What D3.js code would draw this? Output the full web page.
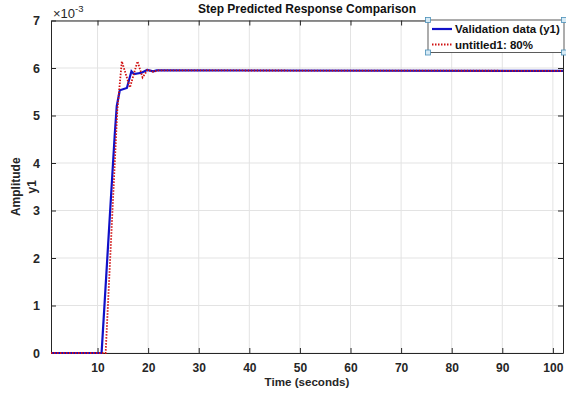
<!DOCTYPE html>
<html>
<head>
<meta charset="utf-8">
<script src="https://cdn.jsdelivr.net/npm/d3@7"></script>
<style>
  body { margin: 0; background: #fff; }
  text { font-family: "Liberation Sans", Arial, sans-serif; font-weight: bold; }
</style>
</head>
<body>
<div id="chart"></div>
<script>
// DATA (amplitude in units of 1e-3)
const validationTime = [0.8, 10.8, 13.4, 13.8, 14.4, 15.8, 16.7, 17.2, 18.7, 19.8, 21.0, 21.7, 102];
const validationAmp  = [0, 0, 4.6, 5.2, 5.53, 5.58, 5.93, 5.87, 5.9, 5.96, 5.93, 5.95, 5.94];

const modelTime = [0.8, 11.6, 13.9, 14.8, 16.4, 17.9, 18.9, 19.9, 21.0, 22.0, 102];
const modelAmp  = [0, 0, 5.1, 6.14, 5.59, 6.14, 5.8, 5.96, 5.92, 5.95, 5.94];

const xTicks = [10, 20, 30, 40, 50, 60, 70, 80, 90, 100];
const yTicks = [0, 1, 2, 3, 4, 5, 6, 7];
const legendLabels = ["Validation data (y1)", "untitled1: 80%"];

const width = 566, height = 394,
  margin = { top: 20.5, bottom: 41, left: 51, right: 3 };

const svg = d3.select("#chart").append("svg")
  .attr("width", width).attr("height", height);

svg.append("rect").attr("width", width).attr("height", height).attr("fill", "#fff");

// SCALES
const xScale = d3.scaleLinear().domain([0.8, 102]).range([margin.left, width - margin.right]);
const yScale = d3.scaleLinear().domain([0, 7]).range([height - margin.bottom, margin.top]);

const x0 = xScale.range()[0], x1 = xScale.range()[1];
const y0 = yScale.range()[0], y1 = yScale.range()[1];

// GRID
svg.append("g").selectAll("line").data(xTicks).join("line")
  .attr("x1", d => xScale(d)).attr("x2", d => xScale(d))
  .attr("y1", y0).attr("y2", y1)
  .attr("stroke", "#e3e3e3").attr("stroke-width", 1);
svg.append("g").selectAll("line").data(yTicks).join("line")
  .attr("x1", x0).attr("x2", x1)
  .attr("y1", d => yScale(d)).attr("y2", d => yScale(d))
  .attr("stroke", "#e3e3e3").attr("stroke-width", 1);

// AXES (ticks inside, box on)
const xAxis = d3.axisBottom(xScale).tickValues(xTicks).tickSizeInner(-5).tickSizeOuter(0).tickPadding(10);
const yAxis = d3.axisLeft(yScale).tickValues(yTicks).tickFormat(d3.format("d"))
  .tickSizeInner(-5).tickSizeOuter(0).tickPadding(11);

const gx = svg.append("g").attr("transform", `translate(0,${y0})`).call(xAxis);
const gy = svg.append("g").attr("transform", `translate(${x0},0)`).call(yAxis);
svg.append("g").attr("transform", `translate(0,${y1})`)
  .call(d3.axisTop(xScale).tickValues(xTicks).tickSizeInner(-5).tickSizeOuter(0).tickFormat(""));
svg.append("g").attr("transform", `translate(${x1},0)`)
  .call(d3.axisRight(yScale).tickValues(yTicks).tickSizeInner(-5).tickSizeOuter(0).tickFormat(""));

svg.selectAll(".domain").attr("stroke", "#262626");
svg.selectAll(".tick line").attr("stroke", "#262626");
gx.selectAll("text").attr("font-size", 12).attr("fill", "#262626");
gy.selectAll("text").attr("font-size", 12.5).attr("fill", "#262626");

// LINES
const line = d3.line().x(d => xScale(d[0])).y(d => yScale(d[1]));

svg.append("path")
  .datum(d3.zip(validationTime, validationAmp))
  .attr("d", line)
  .attr("fill", "none").attr("stroke", "#1010c8").attr("stroke-width", 2.2);

svg.append("path")
  .datum(d3.zip(modelTime, modelAmp))
  .attr("d", line)
  .attr("fill", "none").attr("stroke", "#d01010").attr("stroke-width", 1.8)
  .attr("stroke-dasharray", "1.5,1.5");

// TEXT
svg.append("text").attr("x", (x0 + x1) / 2).attr("y", 13)
  .attr("text-anchor", "middle").attr("font-size", 12).attr("fill", "#111")
  .text("Step Predicted Response Comparison");

const exp = svg.append("text").attr("x", 53).attr("y", 18).attr("font-size", 13)
  .attr("fill", "#262626");
exp.append("tspan").attr("font-weight", "normal").text("\u00d710");
exp.append("tspan").attr("dy", -6).attr("font-size", 9.5).attr("font-weight", "normal").text("-3");

svg.append("text").attr("x", (x0 + x1) / 2).attr("y", 386)
  .attr("text-anchor", "middle").attr("font-size", 11.6).attr("fill", "#262626")
  .text("Time (seconds)");

const yl = svg.append("text")
  .attr("transform", `translate(20,${(y0 + y1) / 2}) rotate(-90)`)
  .attr("text-anchor", "middle").attr("font-size", 12).attr("fill", "#262626");
yl.append("tspan").attr("x", 0).attr("dy", 0).text("Amplitude");
yl.append("tspan").attr("x", 0).attr("dy", 16).text("y1");

// LEGEND
const lg = { x: 428, y: 20, w: 136, h: 32.5 };
svg.append("rect").attr("x", lg.x).attr("y", lg.y).attr("width", lg.w).attr("height", lg.h)
  .attr("fill", "#fff").attr("stroke", "#333").attr("stroke-width", 0.8);

const legendStyles = [
  { stroke: "#1010c8", width: 2.2, dash: null },
  { stroke: "#d01010", width: 1.8, dash: "1.5,1.5" }
];
legendLabels.forEach((label, i) => {
  const cy = lg.y + 9 + i * 15.5;
  svg.append("line").attr("x1", lg.x + 4).attr("x2", lg.x + 24)
    .attr("y1", cy).attr("y2", cy)
    .attr("stroke", legendStyles[i].stroke).attr("stroke-width", legendStyles[i].width)
    .attr("stroke-dasharray", legendStyles[i].dash);
  svg.append("text").attr("x", lg.x + 27).attr("y", cy + 4)
    .attr("font-size", 11.5).attr("fill", "#111").text(label);
});

// selection handles
const corners = [[lg.x, lg.y], [lg.x + lg.w, lg.y], [lg.x, lg.y + lg.h], [lg.x + lg.w, lg.y + lg.h]];
svg.append("g").selectAll("rect").data(corners).join("rect")
  .attr("x", d => d[0] - 2.5).attr("y", d => d[1] - 2.5)
  .attr("width", 5).attr("height", 5)
  .attr("fill", "#d6eaf5").attr("stroke", "#4a90b8").attr("stroke-width", 0.8);
</script>
</body>
</html>
